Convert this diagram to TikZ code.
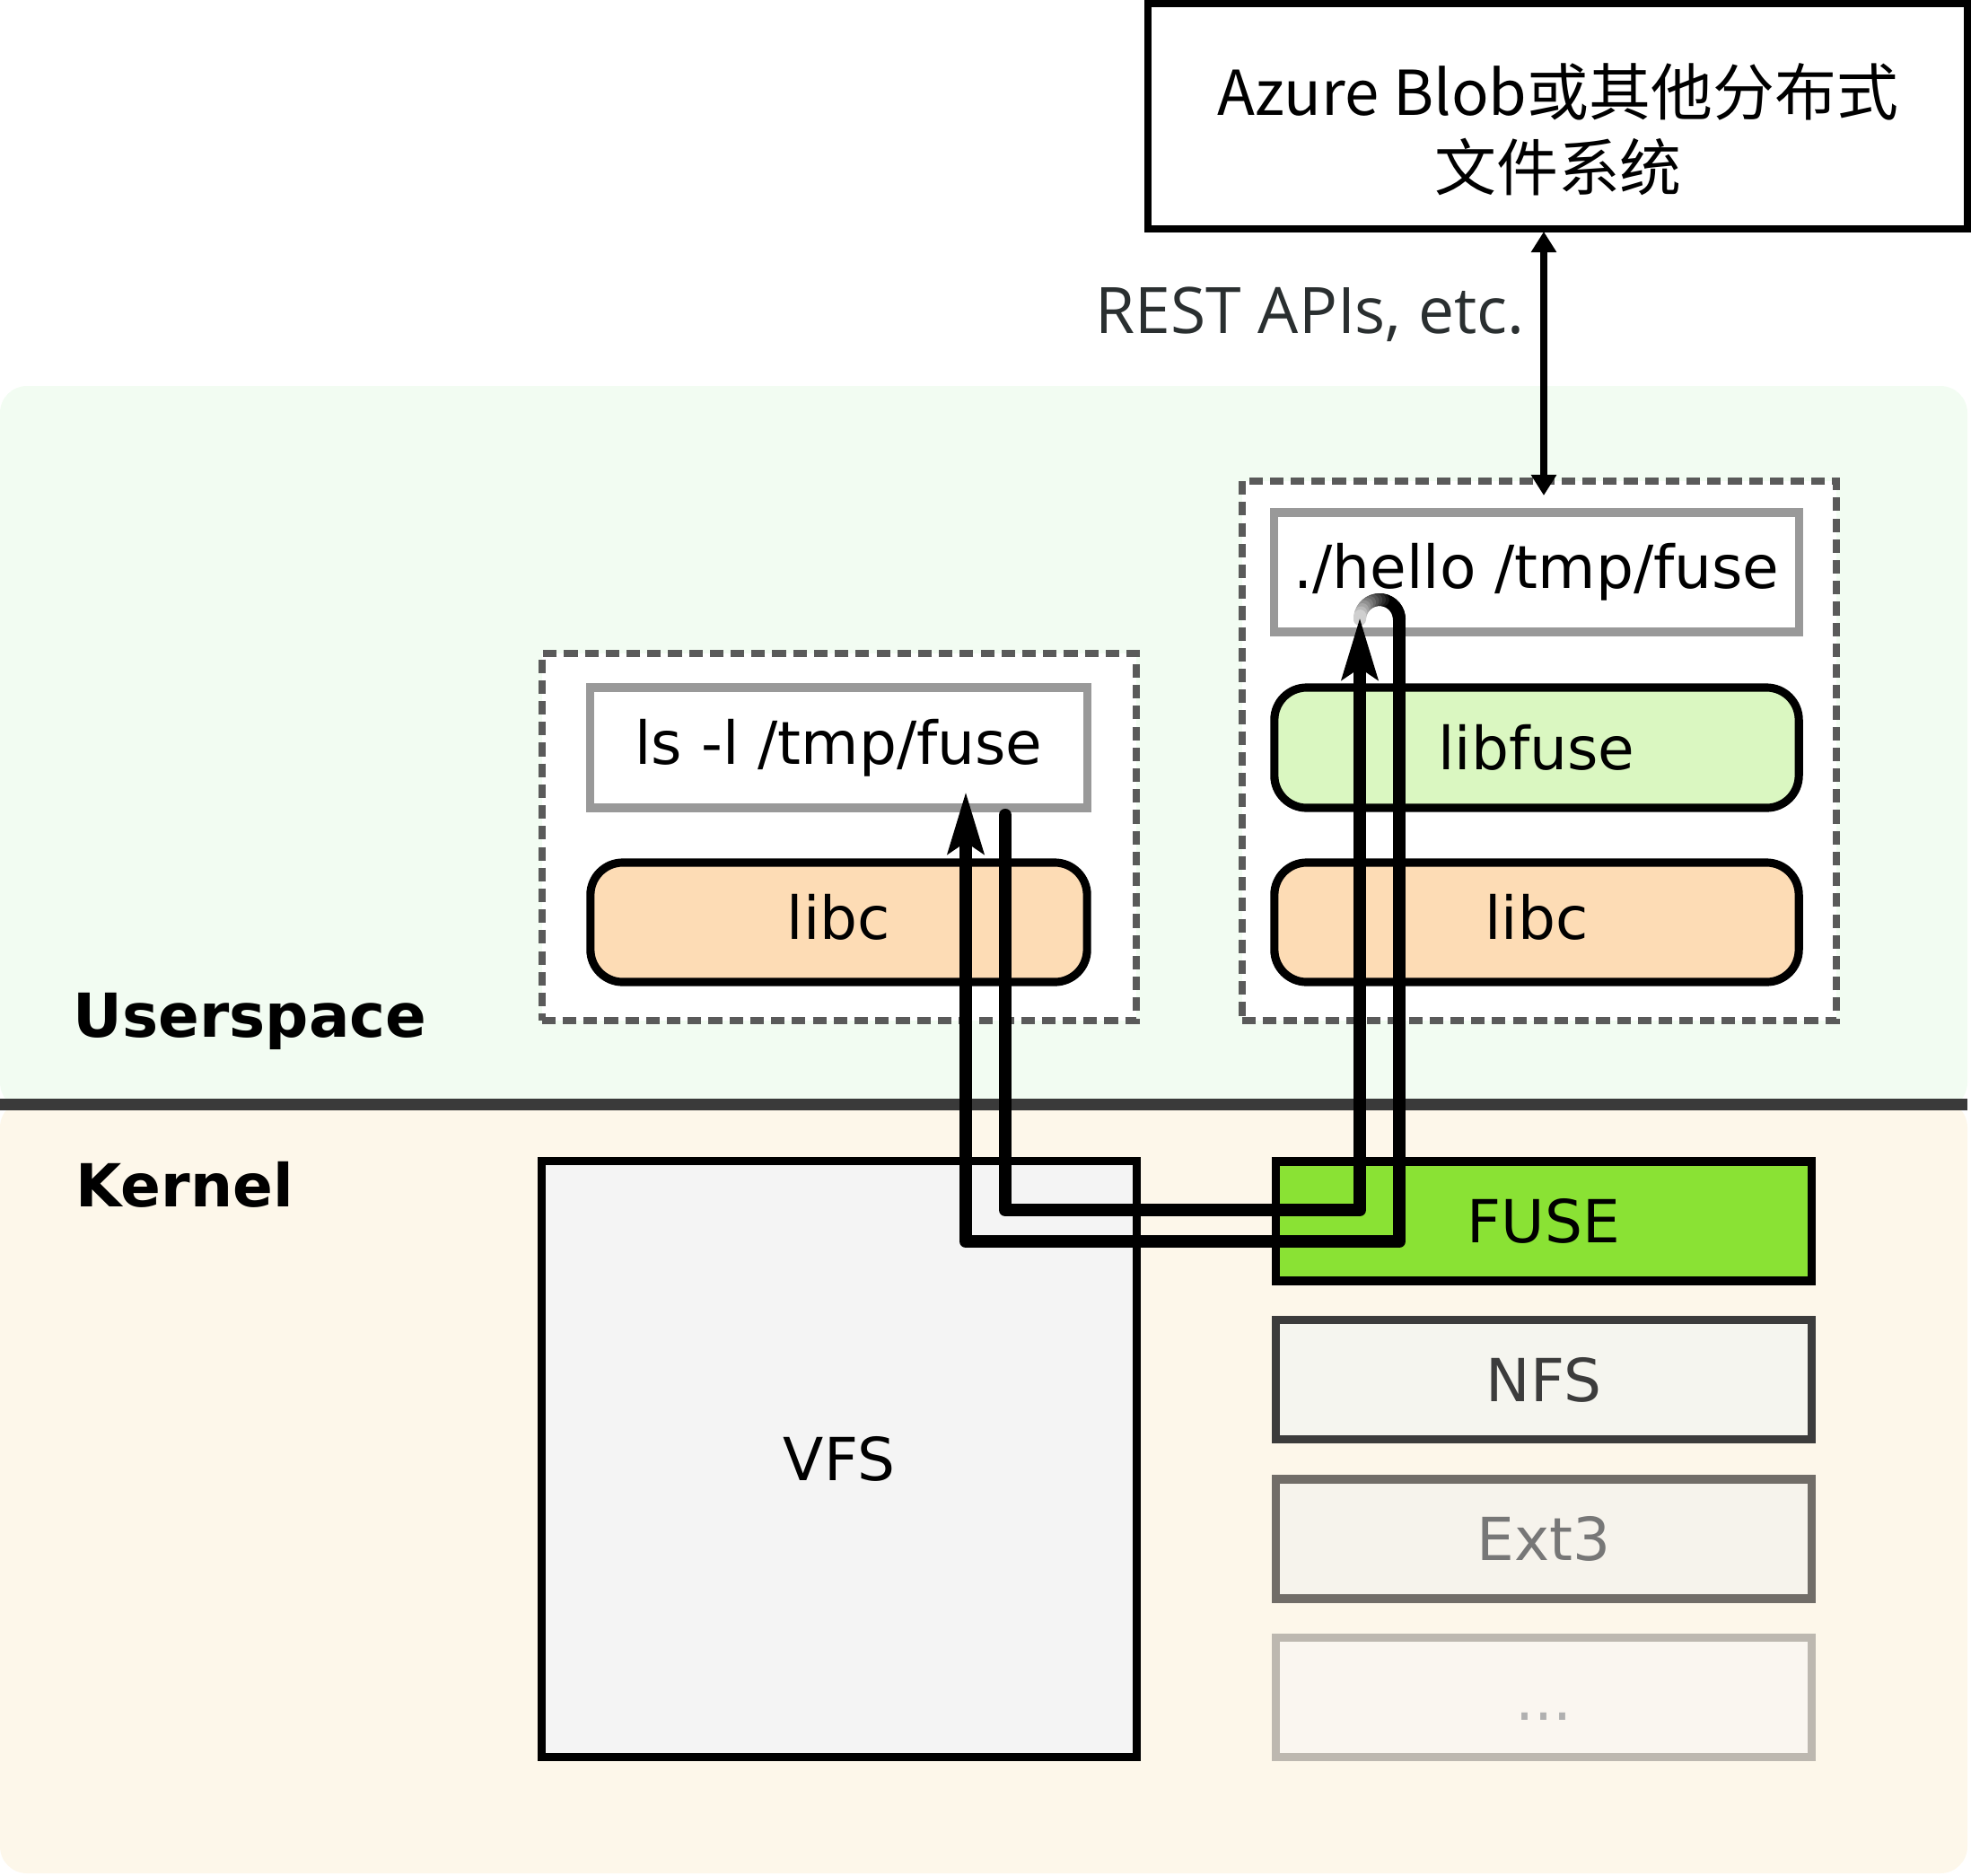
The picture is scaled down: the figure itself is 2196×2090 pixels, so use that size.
\documentclass[tikz,border=0pt]{standalone}
\usepackage{fontspec}
\setmainfont{DejaVu Sans}
\newfontfamily\cjkfont{Noto Sans CJK SC}
\newfontfamily\restfont{Open Sans}
\usetikzlibrary{arrows.meta,calc}
\definecolor{usbg}{HTML}{F2FCF2}
\definecolor{kbg}{HTML}{FDF7EA}
\definecolor{dashc}{HTML}{5A5A5A}
\definecolor{cmdc}{HTML}{999999}
\definecolor{libcc}{HTML}{FDDCB5}
\definecolor{libfc}{HTML}{DAF7C1}
\definecolor{fusec}{HTML}{8AE234}
\definecolor{vfsc}{HTML}{F4F4F4}
\definecolor{nfsd}{HTML}{3C3C3C}
\definecolor{nfsf}{HTML}{F5F5EF}
\definecolor{extd}{HTML}{716D68}
\definecolor{extf}{HTML}{F6F3EC}
\definecolor{extt}{HTML}{777777}
\definecolor{dotd}{HTML}{BDB8B0}
\definecolor{dotf}{HTML}{FAF6F0}
\definecolor{dott}{HTML}{B0B0B0}
\definecolor{restc}{HTML}{2A2F30}
\definecolor{divc}{HTML}{3A3A3A}
\begin{document}
\begin{tikzpicture}[x=0.01cm,y=-0.01cm,
  lbl/.style={font=\fontsize{18.8pt}{22pt}\selectfont, inner sep=0pt},
  dashbox/.style={draw=dashc, line width=2.3pt, dash pattern=on 4.3pt off 2.3pt, fill=white, inner sep=0pt},
  cmdbox/.style={lbl, draw=cmdc, line width=2.6pt, fill=white},
  libbox/.style={lbl, draw=black, line width=2.6pt, rounded corners=0.36cm},
  fsbox/.style={lbl, line width=2.6pt, minimum width=5.96cm, minimum height=1.33cm},
  flow/.style={line width=4pt, line cap=round, line join=round},
  bigtip/.style={-{Stealth[length=0.68cm,width=0.39cm,inset=0.12cm]}},
  smalltip/.style={{Triangle[length=0.23cm,width=0.27cm]}-{Triangle[length=0.23cm,width=0.27cm]}}
]
\useasboundingbox (0,0) rectangle (2196,2090);
% backgrounds
\fill[usbg, rounded corners=0.3cm] (0,430) rectangle (2192,1236);
\fill[kbg, rounded corners=0.3cm] (0,1226) rectangle (2192,2087);
\draw[divc, line width=3.7pt] (0,1230) -- (2192,1230);

% top box
\node[draw=black, line width=2.3pt, minimum width=9.13cm, minimum height=2.51cm, inner sep=0pt] (blob) at (1735.5,129.5) {};
\node[font=\cjkfont\fontsize{19.6pt}{24pt}\selectfont, align=center, inner sep=0pt] (blobtxt) at (1736,144) {Azure Blob或其他分布式\\文件系统};

% dashed containers
\node[dashbox, minimum width=6.62cm, minimum height=4.09cm] (ldash) at (935,932.5) {};
\node[dashbox, minimum width=6.62cm, minimum height=6.01cm] (rdash) at (1715,836.5) {};

% userspace boxes
\node[cmdbox, minimum width=5.53cm, minimum height=1.34cm] (ls) at (934.5,833) {ls -l /tmp/fuse};
\node[libbox, fill=libcc, minimum width=5.53cm, minimum height=1.33cm, text depth=0.12cm] (libcL) at (934.5,1027.5) {libc};
\node[cmdbox, minimum width=5.84cm, minimum height=1.33cm] (hello) at (1712,637.5) {./hello /tmp/fuse};
\node[libbox, fill=libfc, minimum width=5.84cm, minimum height=1.34cm] (libfuse) at (1712,833) {libfuse};
\node[libbox, fill=libcc, minimum width=5.84cm, minimum height=1.33cm, text depth=0.12cm] (libcR) at (1712,1027.5) {libc};

% kernel boxes
\node[lbl, draw=black, line width=2.6pt, fill=vfsc, minimum width=6.62cm, minimum height=6.63cm] (vfs) at (935,1625.5) {VFS};
\node[fsbox, draw=black, fill=fusec] (fuse) at (1720,1360.5) {FUSE};
\node[fsbox, draw=nfsd, fill=nfsf, text=nfsd] (nfs) at (1720,1537) {NFS};
\node[fsbox, draw=extd, fill=extf, text=extt] (ext) at (1720,1714.5) {Ext3};
\node[fsbox, draw=dotd, fill=dotf] (dots) at (1720,1891) {};
\node[lbl, text=dott, anchor=base] (dotstxt) at (1720,1916) {...};

% labels
\node[font=\bfseries\fontsize{19.2pt}{22pt}\selectfont, anchor=base west, inner sep=0pt] (us) at (81,1155) {Userspace};
\node[font=\bfseries\fontsize{18.8pt}{22pt}\selectfont, anchor=base west, inner sep=0pt] (kn) at (84,1344) {Kernel};
\node[font=\restfont\fontsize{20.3pt}{24pt}\selectfont, text=restc, anchor=base east, inner sep=0pt] (rest) at (1699,371) {REST APIs, etc.};

% REST arrow
\coordinate (ra) at (1720,258);
\coordinate (rb) at (1720,552);
\draw[line width=2.3pt, smalltip] (ra) -- (rb);

% flow paths
\coordinate (p1s) at (1120,908);
\coordinate (p1b) at (1120,1348);
\coordinate (p1c) at (1515,1348);
\coordinate (p1e) at (1515,688);
\coordinate (uc) at (1537,690);
\coordinate (p2s) at (1559,690);
\coordinate (p2b) at (1559,1383);
\coordinate (p2c) at (1076,1383);
\coordinate (p2e) at (1076,882);

\foreach \i in {0,...,17}{
  \pgfmathsetmacro{\aa}{\i*10}
  \pgfmathsetmacro{\ab}{\i*10+10}
  \pgfmathtruncatemacro{\pc}{\aa<70 ? 100 : 100-(\aa-70)*0.8}
  \draw[line width=4pt, line cap=round, draw=black!\pc] ($(uc)+(-\aa:22)$) -- ($(uc)+(-\ab:22)$);
}
\draw[flow, bigtip] (p1s) -- (p1b) -- (p1c) -- (p1e);
\draw[flow, bigtip] (p2s) -- (p2b) -- (p2c) -- (p2e);
\end{tikzpicture}
\end{document}
